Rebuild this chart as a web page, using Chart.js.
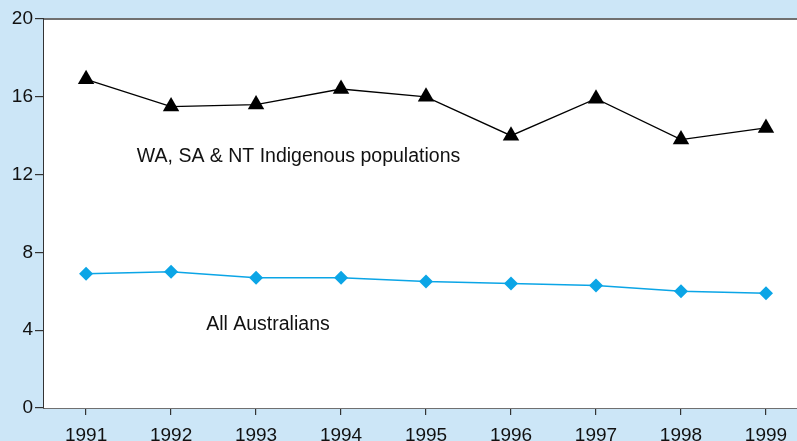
<!DOCTYPE html>
<html>
<head>
<meta charset="utf-8">
<script src="https://cdn.jsdelivr.net/npm/chart.js@4"></script>
<style>
    html, body { margin: 0; padding: 0; background: #cce6f7; }
    #wrap { width: 797px; height: 441px; position: relative; }
</style>
</head>
<body>
<div id="wrap"><canvas id="chart" width="797" height="441"></canvas></div>
<script>
// ============================================
// DATA
// ============================================
const years = [1991, 1992, 1993, 1994, 1995, 1996, 1997, 1998, 1999];
const indigenousValues = [16.9, 15.5, 15.6, 16.4, 16.0, 14.0, 15.9, 13.8, 14.4];
const australianValues = [6.9, 7.0, 6.7, 6.7, 6.5, 6.4, 6.3, 6.0, 5.9];
const yTicks = [0, 4, 8, 12, 16, 20];

const seriesLabels = ['WA, SA & NT Indigenous populations', 'All Australians'];
// where each in-plot label sits, in data units (x = year, y = value)
const labelAnchors = [
    { x: 1993.5, y: 12.9 },
    { x: 1993.14, y: 4.3 },
];

const FONT = 'Liberation Sans, Arial, sans-serif';

// white plot area + in-plot series labels
const plotPlugin = {
    id: 'plotPlugin',
    beforeDatasetsDraw(chart) {
        const { ctx, chartArea } = chart;
        ctx.save();
        ctx.fillStyle = '#ffffff';
        ctx.fillRect(chartArea.left, chartArea.top, chartArea.right - chartArea.left, chartArea.bottom - chartArea.top);
        // top border
        ctx.strokeStyle = '#707070';
        ctx.lineWidth = 2;
        ctx.beginPath();
        ctx.moveTo(chartArea.left, chartArea.top);
        ctx.lineTo(chartArea.right, chartArea.top);
        ctx.stroke();
        ctx.restore();
    },
    afterDatasetsDraw(chart) {
        const { ctx, scales } = chart;
        ctx.save();
        ctx.fillStyle = '#111111';
        ctx.font = '19.5px ' + FONT;
        ctx.textAlign = 'center';
        ctx.textBaseline = 'middle';
        seriesLabels.forEach((label, i) => {
            const a = labelAnchors[i];
            ctx.fillText(label, scales.x.getPixelForValue(a.x), scales.y.getPixelForValue(a.y));
        });
        ctx.restore();
    },
};

const toPoints = (values) => values.map((v, i) => ({ x: years[i], y: v }));

new Chart(document.getElementById('chart'), {
    type: 'line',
    data: {
        datasets: [
            {
                label: seriesLabels[0],
                data: toPoints(indigenousValues),
                borderColor: '#000000',
                backgroundColor: '#000000',
                borderWidth: 1.3,
                pointStyle: 'triangle',
                pointRadius: 9.5,
                pointBorderWidth: 0,
                tension: 0,
            },
            {
                label: seriesLabels[1],
                data: toPoints(australianValues),
                borderColor: '#0ba5e6',
                backgroundColor: '#0ba5e6',
                borderWidth: 1.5,
                pointStyle: 'rectRot',
                pointRadius: 7,
                pointBorderWidth: 0,
                tension: 0,
            },
        ],
    },
    options: {
        responsive: false,
        animation: false,
        layout: { autoPadding: false, padding: { top: 19, left: 0, right: 0, bottom: 0 } },
        plugins: {
            legend: { display: false },
            tooltip: { enabled: false },
        },
        scales: {
            x: {
                type: 'linear',
                min: 1990.505,
                max: 1999.365,
                afterFit: (scale) => {
                    scale.height = 33;
                    scale.paddingLeft = 0;
                    scale.paddingRight = 0;
                },
                afterBuildTicks: (scale) => { scale.ticks = years.map((y) => ({ value: y })); },
                ticks: {
                    color: '#111111',
                    font: { family: FONT, size: 19 },
                    padding: 9,
                    maxRotation: 0,
                    callback: (v) => String(v),
                },
                grid: { display: true, drawOnChartArea: false, drawTicks: true, tickLength: 7, color: '#333333', lineWidth: 1.2 },
                border: { color: '#707070', width: 2 },
            },
            y: {
                min: 0,
                max: 20,
                afterFit: (scale) => {
                    scale.width = 44;
                    scale.paddingTop = 0;
                    scale.paddingBottom = 0;
                },
                afterBuildTicks: (scale) => { scale.ticks = yTicks.map((v) => ({ value: v })); },
                ticks: {
                    color: '#111111',
                    font: { family: FONT, size: 19 },
                    padding: 2,
                },
                grid: { display: true, drawOnChartArea: false, drawTicks: true, tickLength: 9, color: '#333333', lineWidth: 1.2 },
                border: { color: '#333333', width: 2 },
            },
        },
    },
    plugins: [plotPlugin],
});
</script>
</body>
</html>
